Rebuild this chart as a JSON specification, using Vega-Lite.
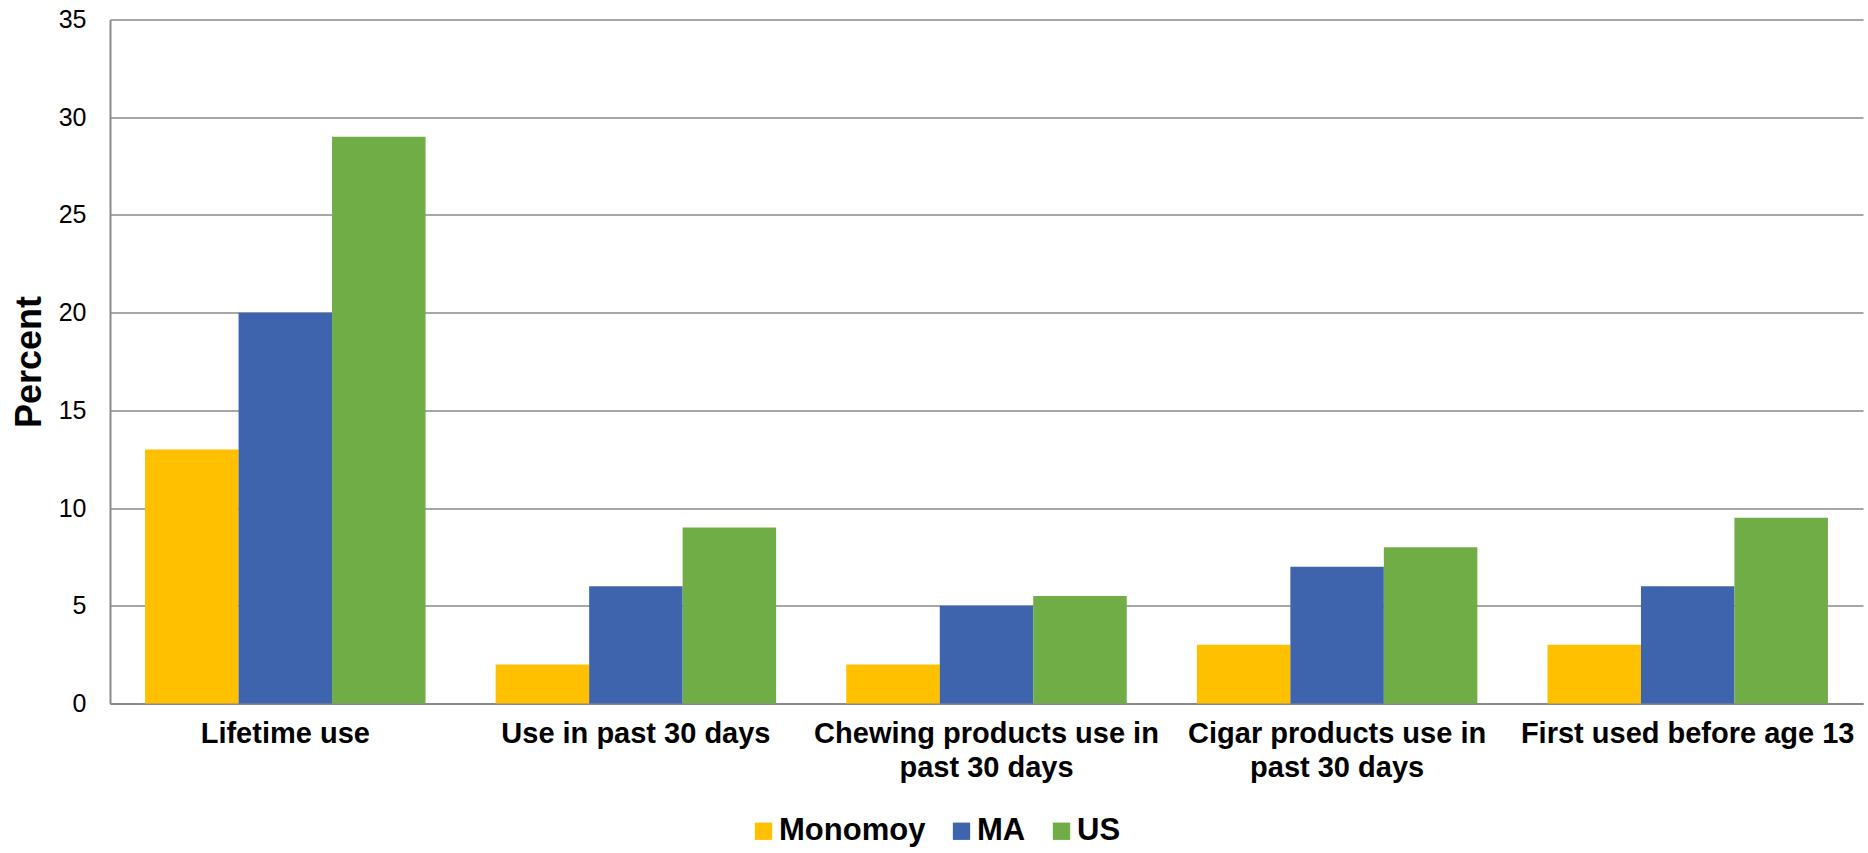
{
  "$schema": "https://vega.github.io/schema/vega-lite/v6.json",
  "autosize": "none",
  "width": 1753,
  "height": 684,
  "padding": {"left": 110, "top": 19.5, "right": 5, "bottom": 150},
  "background": "white",
  "config": {
    "font": "Liberation Sans",
    "view": {"stroke": null}
  },
  "data": {
    "values": [
      {"category": "Lifetime use", "group": "Monomoy", "value": 13},
      {"category": "Lifetime use", "group": "MA", "value": 20},
      {"category": "Lifetime use", "group": "US", "value": 29},
      {"category": "Use in past 30 days", "group": "Monomoy", "value": 2},
      {"category": "Use in past 30 days", "group": "MA", "value": 6},
      {"category": "Use in past 30 days", "group": "US", "value": 9},
      {"category": "Chewing products use in|past 30 days", "group": "Monomoy", "value": 2},
      {"category": "Chewing products use in|past 30 days", "group": "MA", "value": 5},
      {"category": "Chewing products use in|past 30 days", "group": "US", "value": 5.5},
      {"category": "Cigar products use in|past 30 days", "group": "Monomoy", "value": 3},
      {"category": "Cigar products use in|past 30 days", "group": "MA", "value": 7},
      {"category": "Cigar products use in|past 30 days", "group": "US", "value": 8},
      {"category": "First used before age 13", "group": "Monomoy", "value": 3},
      {"category": "First used before age 13", "group": "MA", "value": 6},
      {"category": "First used before age 13", "group": "US", "value": 9.5}
    ]
  },
  "mark": {"type": "bar"},
  "encoding": {
    "x": {
      "field": "category",
      "type": "nominal",
      "sort": null,
      "scale": {"paddingInner": 0.2, "paddingOuter": 0.1},
      "axis": {
        "title": null,
        "labelAngle": 0,
        "labelExpr": "split(datum.label, '|')",
        "labelFont": "Liberation Sans",
        "labelFontSize": 29,
        "labelFontWeight": "bold",
        "labelColor": "black",
        "labelLineHeight": 34,
        "labelPadding": 16,
        "labelLimit": 0,
        "ticks": false,
        "domainColor": "#8a8a8a",
        "domainWidth": 2,
        "grid": false
      }
    },
    "xOffset": {
      "field": "group",
      "type": "nominal",
      "sort": ["Monomoy", "MA", "US"],
      "scale": {"paddingInner": 0, "paddingOuter": 0}
    },
    "y": {
      "field": "value",
      "type": "quantitative",
      "scale": {"domain": [0, 35], "nice": false},
      "axis": {
        "title": "Percent",
        "titleFont": "Liberation Sans",
        "titleFontSize": 36,
        "titleFontWeight": "bold",
        "titleColor": "black",
        "titlePadding": 10,
        "values": [0, 5, 10, 15, 20, 25, 30, 35],
        "labelFont": "Liberation Sans",
        "labelFontSize": 25,
        "labelColor": "black",
        "labelPadding": 24,
        "ticks": false,
        "domainColor": "#8a8a8a",
        "domainWidth": 2,
        "gridColor": "#8a8a8a",
        "gridWidth": 1.5
      }
    },
    "color": {
      "field": "group",
      "type": "nominal",
      "sort": ["Monomoy", "MA", "US"],
      "scale": {
        "domain": ["Monomoy", "MA", "US"],
        "range": ["#FFC000", "#3E64AD", "#70AD47"]
      },
      "legend": {
        "title": null,
        "orient": "none",
        "direction": "horizontal",
        "legendX": 638,
        "legendY": 796,
        "symbolType": "square",
        "symbolSize": 300,
        "symbolStrokeWidth": 0,
        "labelFont": "Liberation Sans",
        "labelFontSize": 31,
        "labelFontWeight": "bold",
        "labelColor": "black",
        "labelOffset": 0,
        "columnPadding": 20
      }
    }
  }
}
